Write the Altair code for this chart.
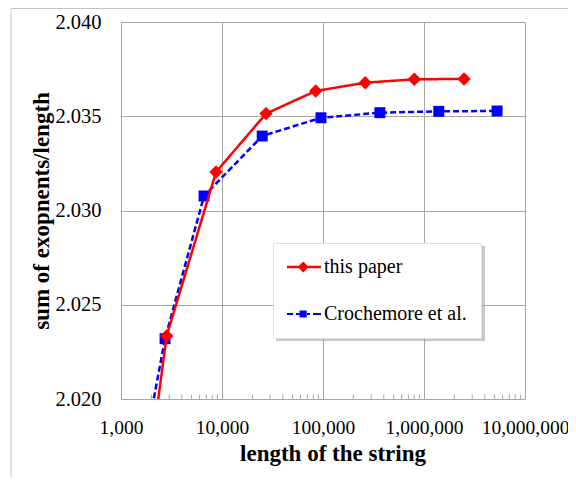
import altair as alt
import pandas as pd

# ---- data ----
series_names = ["this paper", "Crochemore et al."]

red_x = [920, 2830, 8730, 27300, 84700, 262000, 802000, 2490000]
red_y = [2.0036, 2.02334, 2.03204, 2.03514, 2.03634, 2.03678, 2.03696, 2.03698]

blue_x = [730, 2730, 6640, 25000, 95500, 366000, 1400000, 5290000]
blue_y = [2.0069, 2.0232, 2.03077, 2.03395, 2.03492, 2.03519, 2.03526, 2.03528]

x_ticks = [1000, 10000, 100000, 1000000, 10000000]
x_minor = [m * 10 ** k for k in range(3, 7) for m in range(2, 10)]
y_ticks = [2.020, 2.025, 2.030, 2.035, 2.040]

df = pd.DataFrame({
    "length": red_x + blue_x,
    "value": red_y + blue_y,
    "series": [series_names[0]] * len(red_x) + [series_names[1]] * len(blue_x),
})
minor_df = pd.DataFrame({"length": x_minor})

RED = "#ff0000"
BLUE = "#0000ff"
GRID = "#a6a6a6"
FONT = "Liberation Serif"
W, H = 404, 377

xscale = alt.Scale(type="log", domain=[1000, 10000000], nice=False)
yscale = alt.Scale(domain=[2.020, 2.040], nice=False, zero=False)

x_axis = alt.Axis(
    values=x_ticks, format=",d", grid=True, gridColor=GRID, gridWidth=1,
    domainColor=GRID, ticks=False, tickSize=0, labelFont=FONT,
    labelFontSize=19.5, labelColor="black", labelBaseline="alphabetic",
    labelPadding=34, labelFlush=False, labelOverlap=False,
    title="length of the string", titleFont=FONT, titleFontSize=23,
    titleFontWeight="bold", titleColor="black", titleX=211.5, titleY=61.5,
    titleBaseline="alphabetic", titleAlign="center",
)
y_axis = alt.Axis(
    values=y_ticks, format=".3f", grid=True, gridColor=GRID, gridWidth=1,
    domainColor=GRID, ticks=False, tickSize=0, labelFont=FONT,
    labelFontSize=20.5, labelColor="black", labelPadding=20,
    labelFlush=False, labelOverlap=False,
    title="sum of exopnents/length", titleFont=FONT, titleFontSize=23,
    titleFontWeight="bold", titleColor="black", titleX=-73, titleY=H / 2,
    titleAngle=270, titleBaseline="alphabetic", titleAlign="center",
)

X = alt.X("length:Q", scale=xscale, axis=x_axis)
Y = alt.Y("value:Q", scale=yscale, axis=y_axis)

base = alt.Chart(df)

# outer chart-area frame (decoration)
frame = alt.Chart(pd.DataFrame({"a": [0]})).mark_rect(
    filled=False, stroke="#c4c4c4", strokeWidth=1, clip=False
).encode(
    x=alt.value(-110), x2=alt.value(W + 80), y=alt.value(-13.5), y2=alt.value(H + 120)
)

minor = alt.Chart(minor_df).mark_rule(color=GRID, strokeWidth=1).encode(
    x=X, y=alt.value(H), y2=alt.value(H - 4.5),
)

def series_layers(name, color, dash, shape, size):
    d = base.transform_filter(alt.datum.series == name)
    line = d.mark_line(color=color, strokeWidth=2.5, strokeDash=dash, clip=True).encode(
        x=X, y=Y,
    )
    pts = d.mark_point(shape=shape, filled=True, color=color, size=size,
                       opacity=1, strokeWidth=0, clip=True).encode(
        x=X, y=Y,
    )
    return line, pts

blue_line, blue_pts = series_layers(series_names[1], BLUE, [6, 3], "square", 120)
red_line, red_pts = series_layers(series_names[0], RED, [1, 0], "diamond", 180)

# legend symbols: line + marker drawn as custom paths (unit = 10px)
red_sym = ("M-1,-0.12 L2.4,-0.12 L2.4,0.12 L-1,0.12 Z "
           "M0.63,-0.55 L1.18,0 L0.63,0.55 L0.08,0 Z")
blue_sym = ("M-1,-0.1 L-0.4,-0.1 L-0.4,0.1 L-1,0.1 Z "
            "M-0.1,-0.1 L0.3,-0.1 L0.3,0.1 L-0.1,0.1 Z "
            "M0.25,-0.36 L0.97,-0.36 L0.97,0.36 L0.25,0.36 Z "
            "M1.0,-0.1 L1.3,-0.1 L1.3,0.1 L1.0,0.1 Z "
            "M1.6,-0.1 L2.4,-0.1 L2.4,0.1 L1.6,0.1 Z")

legend_layer = base.transform_filter("false").mark_point(
    filled=True, opacity=1, clip=True
).encode(
    x=X, y=Y,
    color=alt.Color("series:N", scale=alt.Scale(domain=series_names, range=[RED, BLUE]),
                    legend=alt.Legend(title=None)),
    shape=alt.Shape("series:N", scale=alt.Scale(domain=series_names, range=[red_sym, blue_sym]),
                    legend=alt.Legend(title=None)),
)

# soft shadow behind the legend box (decoration)
shadow = alt.Chart(pd.DataFrame({"a": [0]})).mark_rect(
    fill="#9a9a9a", opacity=0.55, clip=False
).encode(
    x=alt.value(155), x2=alt.value(364), y=alt.value(224), y2=alt.value(319)
)

chart = alt.layer(
    frame, minor, shadow, blue_line, blue_pts, red_line, red_pts, legend_layer
).properties(
    width=W, height=H,
    autosize=alt.AutoSizeParams(type="none"),
    padding={"left": 113, "top": 14, "right": 43, "bottom": 78},
    background="white",
).configure_view(
    stroke=None
).configure_legend(
    orient="none", legendX=152, legendY=221, direction="vertical",
    padding=14, rowPadding=27, labelOffset=17, symbolSize=400,
    labelFont=FONT, labelFontSize=20, labelColor="black", labelLimit=0,
    fillColor="white", strokeColor="#e0e0e0", symbolStrokeWidth=0,
)

chart.save("out.html", embed_options={"renderer": "svg", "actions": False})
